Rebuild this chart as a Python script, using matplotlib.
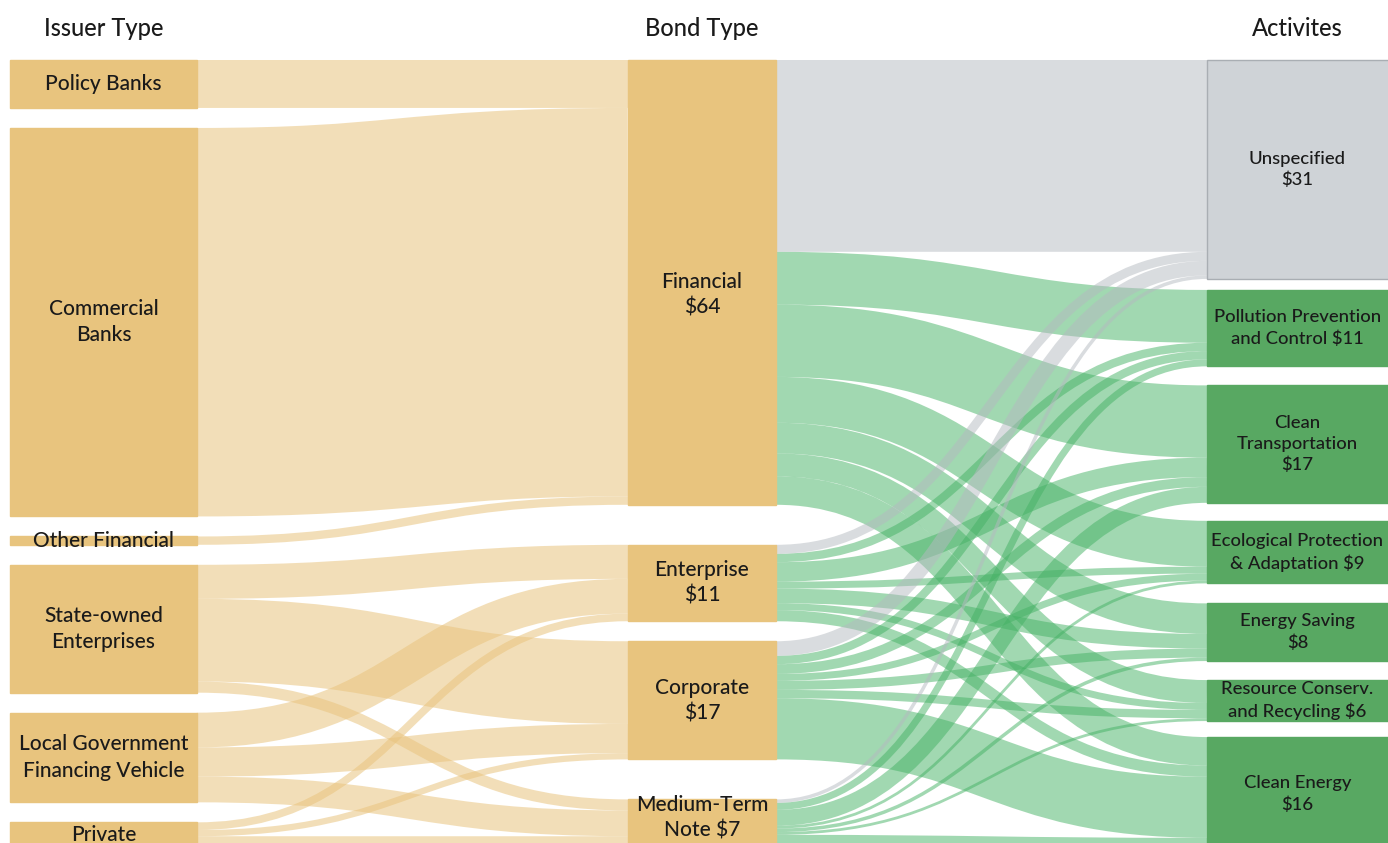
import numpy as np
import matplotlib.pyplot as plt
from matplotlib.path import Path
from matplotlib.patches import PathPatch, Rectangle

# ---- data ($bn) ----
headers = ["Issuer Type", "Bond Type", "Activites"]
issuers = ["Policy Banks", "Commercial\nBanks", "Other Financial",
           "State-owned\nEnterprises", "Local Government\nFinancing Vehicle", "Private"]
bond_types = ["Financial\n$64", "Enterprise\n$11", "Corporate\n$17", "Medium-Term\nNote $7"]
activities = ["Unspecified\n$31", "Pollution Prevention\nand Control $11",
              "Clean\nTransportation\n$17", "Ecological Protection\n& Adaptation $9",
              "Energy Saving\n$8", "Resource Conserv.\nand Recycling $6", "Clean Energy\n$16"]

# rows: issuers, cols: bond types
issuer_to_bond = [
    [6.9, 0, 0, 0],
    [55.9, 0, 0, 0],
    [1.2, 0, 0, 0],
    [0, 4.9, 11.9, 1.6],
    [0, 5.0, 4.2, 3.7],
    [0, 1.1, 0.9, 1.7],
]
# rows: bond types, cols: activities
bond_to_activity = [
    [27.6, 7.6, 10.4, 6.6, 4.4, 3.3, 4.1],
    [1.3, 1.2, 2.8, 1.0, 2.1, 1.0, 1.6],
    [2.1, 1.2, 1.4, 1.0, 1.3, 1.2, 8.8],
    [0.5, 1.0, 2.3, 0.4, 0.5, 0.4, 1.9],
]

# ---- layout / style ----
W, H, DPI = 1388, 843, 100
K = 6.95          # px per $bn
TOP = 60
col_x = [(10, 197), (628, 776), (1207, 1395)]
col_gaps = [[20] * 5, [40, 20, 40], [11, 19, 18, 20, 19, 16]]
label_dy = {(1, 0): 12, (1, 3): -6}
GOLD = "#E8C47E"
GREEN = "#58A862"
TXT = "#1A1A1A"
plt.rcParams['font.family'] = ['Lato', 'DejaVu Sans']

m1 = np.array(issuer_to_bond)
m2 = np.array(bond_to_activity)
values = [m1.sum(axis=1), np.maximum(m1.sum(axis=0), m2.sum(axis=1)), m2.sum(axis=0)]


def stack(vals, gaps):
    ys = []
    y = TOP
    for i, v in enumerate(vals):
        ys.append((y, y + v * K))
        y += v * K + (gaps[i] if i < len(gaps) else 0)
    return ys


node_y = [stack(values[c], col_gaps[c]) for c in range(3)]

fig = plt.figure(figsize=(W / DPI, H / DPI), dpi=DPI)
ax = fig.add_axes([0, 0, 1, 1])
ax.set_xlim(0, W)
ax.set_ylim(H, 0)
ax.axis('off')


def draw_links(mat, c, color_fn, alpha):
    src_y, tgt_y = node_y[c], node_y[c + 1]
    x0, x1 = col_x[c][1], col_x[c + 1][0]
    xm = (x0 + x1) / 2
    n_s, n_t = mat.shape
    s_off = [s[0] for s in src_y]
    t_off = [t[0] for t in tgt_y]
    links = []
    for i in range(n_s):
        for j in range(n_t):
            if mat[i, j] > 0:
                w = mat[i, j] * K
                links.append((i, j, w, s_off[i] + w / 2))
                s_off[i] += w
    out = []
    for j in range(n_t):
        for (i, jj, w, ys) in links:
            if jj == j:
                out.append((i, j, w, ys, t_off[j] + w / 2))
                t_off[j] += w
    # gray links drawn last so they sit on top
    out.sort(key=lambda l: color_fn(l[1])[1])
    for (i, j, w, ys, yt) in out:
        col, _ = color_fn(j)
        p = Path([(x0, ys), (xm, ys), (xm, yt), (x1, yt)],
                 [Path.MOVETO, Path.CURVE4, Path.CURVE4, Path.CURVE4])
        ax.add_patch(PathPatch(p, fill=False, edgecolor=col, alpha=alpha,
                               lw=w * 72 / DPI, capstyle='butt', zorder=1))


draw_links(m1, 0, lambda j: ("#E9C47E", 0), 0.55)
draw_links(m2, 1, lambda j: ("#B4BAC0", 1) if j == 0 else ("#45B265", 0), 0.5)

# nodes
for c in range(3):
    xa, xb = col_x[c]
    for k, (ya, yb) in enumerate(node_y[c]):
        if c < 2:
            fc, ec = GOLD, GOLD
        elif k == 0:
            fc, ec = "#CFD3D7", "#A9AEB3"
        else:
            fc, ec = GREEN, GREEN
        ax.add_patch(Rectangle((xa, ya), xb - xa, yb - ya, facecolor=fc,
                               edgecolor=ec, lw=1, zorder=2))

# labels
names = [issuers, bond_types, activities]
sizes = [15, 15, 13.3]
spacing = [1.4, 1.35, 1.38]
for c in range(3):
    xa, xb = col_x[c]
    xc = (xa + min(xb, W)) / 2
    for k, (ya, yb) in enumerate(node_y[c]):
        yc = (ya + yb) / 2 + label_dy.get((c, k), 0)
        ax.text(xc, yc, names[c][k], ha='center', va='center',
                fontsize=sizes[c], color=TXT, linespacing=spacing[c],
                fontweight='medium', zorder=3)
    ax.text(xc, 28, headers[c], ha='center', va='center', fontsize=17,
            color=TXT, fontweight='medium')

fig.savefig("out.png", dpi=DPI)
